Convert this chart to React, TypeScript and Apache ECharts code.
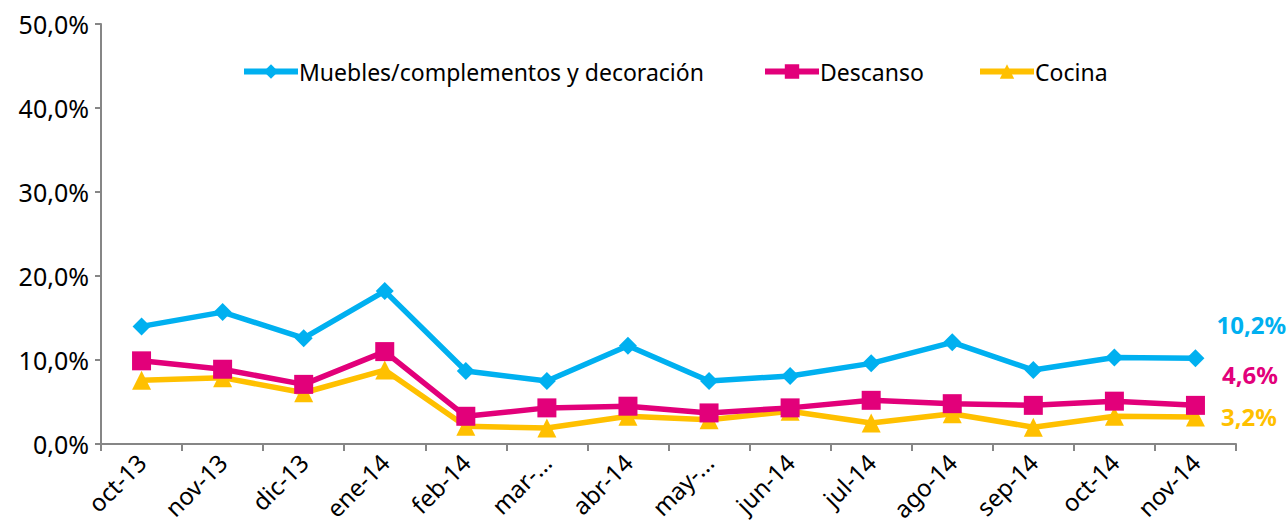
import React, { useEffect, useRef } from "react";
import * as echarts from "echarts";

const categories = ["oct-13", "nov-13", "dic-13", "ene-14", "feb-14", "mar-...", "abr-14", "may-...", "jun-14", "jul-14", "ago-14", "sep-14", "oct-14", "nov-14"];
const muebles = [14.0, 15.7, 12.6, 18.2, 8.7, 7.5, 11.7, 7.5, 8.1, 9.6, 12.1, 8.8, 10.3, 10.2];
const descanso = [9.9, 8.9, 7.1, 11.0, 3.3, 4.3, 4.5, 3.7, 4.3, 5.2, 4.8, 4.6, 5.1, 4.6];
const cocina = [7.6, 7.9, 6.1, 8.8, 2.1, 1.9, 3.3, 2.9, 3.9, 2.5, 3.6, 2.0, 3.3, 3.2];
const yTicks = [0, 10, 20, 30, 40, 50];
const seriesNames = ["Muebles/complementos y decoración", "Descanso", "Cocina"];

const FONT = "Noto Sans";
const fmt = (v: number) => v.toFixed(1).replace(".", ",") + "%";

function withEndLabel(vals: number[], color: string, offset: number[]) {
  return vals.map((v, i) =>
    i === vals.length - 1
      ? {
          value: v,
          label: {
            show: true,
            position: "right",
            offset,
            formatter: () => fmt(v),
            color,
            fontFamily: FONT,
            fontWeight: "bold",
            fontSize: 24,
          },
        }
      : v
  );
}

function legendAt(name: string, left: number) {
  return {
    left,
    top: 55,
    itemWidth: 54,
    itemHeight: 18,
    lineStyle: { width: 6 },
    textStyle: { fontFamily: FONT, fontSize: 23, color: "#000", padding: [0, 0, 0, -4] },
    data: [name],
  };
}

export default function App() {
  const ref = useRef<HTMLDivElement>(null);
  useEffect(() => {
    if (!ref.current) return;
    const chart = echarts.init(ref.current, undefined, { renderer: "svg" });
    const axisColor = "#868686";
    chart.setOption({
      animation: false,
      backgroundColor: "#ffffff",
      grid: { left: 101, right: 52, top: 24, bottom: 86 },
      legend: [legendAt(seriesNames[0], 236), legendAt(seriesNames[1], 757), legendAt(seriesNames[2], 972)],
      xAxis: {
        type: "category",
        data: categories,
        boundaryGap: true,
        axisLine: { lineStyle: { color: axisColor, width: 2 } },
        axisTick: { show: true, length: 7, lineStyle: { color: axisColor, width: 2 } },
        axisLabel: { rotate: 45, fontFamily: FONT, fontSize: 24, color: "#000", margin: 14, interval: 0 },
        splitLine: { show: false },
      },
      yAxis: {
        type: "value",
        min: yTicks[0],
        max: yTicks[yTicks.length - 1],
        interval: 10,
        axisLine: { show: true, lineStyle: { color: axisColor, width: 2 } },
        axisTick: { show: true, length: 6, lineStyle: { color: axisColor, width: 2 } },
        axisLabel: { fontFamily: FONT, fontSize: 25, color: "#000", margin: 12, formatter: (v: number) => fmt(v) },
        splitLine: { show: false },
      },
      series: [
        {
          name: seriesNames[0],
          type: "line",
          data: withEndLabel(muebles, "#00B0F0", [7, -34]),
          symbol: "diamond",
          symbolSize: 18,
          itemStyle: { color: "#00B0F0" },
          lineStyle: { color: "#00B0F0", width: 5.5 },
          z: 3,
        },
        {
          name: seriesNames[1],
          type: "line",
          data: withEndLabel(descanso, "#E2007A", [12, -31]),
          symbol: "rect",
          symbolSize: 19,
          itemStyle: { color: "#E2007A" },
          lineStyle: { color: "#E2007A", width: 5.5 },
          z: 2,
        },
        {
          name: seriesNames[2],
          type: "line",
          data: withEndLabel(cocina, "#FFC000", [11, -1]),
          symbol: "triangle",
          symbolSize: 19,
          itemStyle: { color: "#FFC000" },
          lineStyle: { color: "#FFC000", width: 5.5 },
          z: 1,
        },
      ],
    });
    return () => chart.dispose();
  }, []);
  return (
    <div
      ref={ref}
      style={{ position: "fixed", left: 0, top: 0, width: 1288, height: 530, background: "#fff" }}
    />
  );
}
